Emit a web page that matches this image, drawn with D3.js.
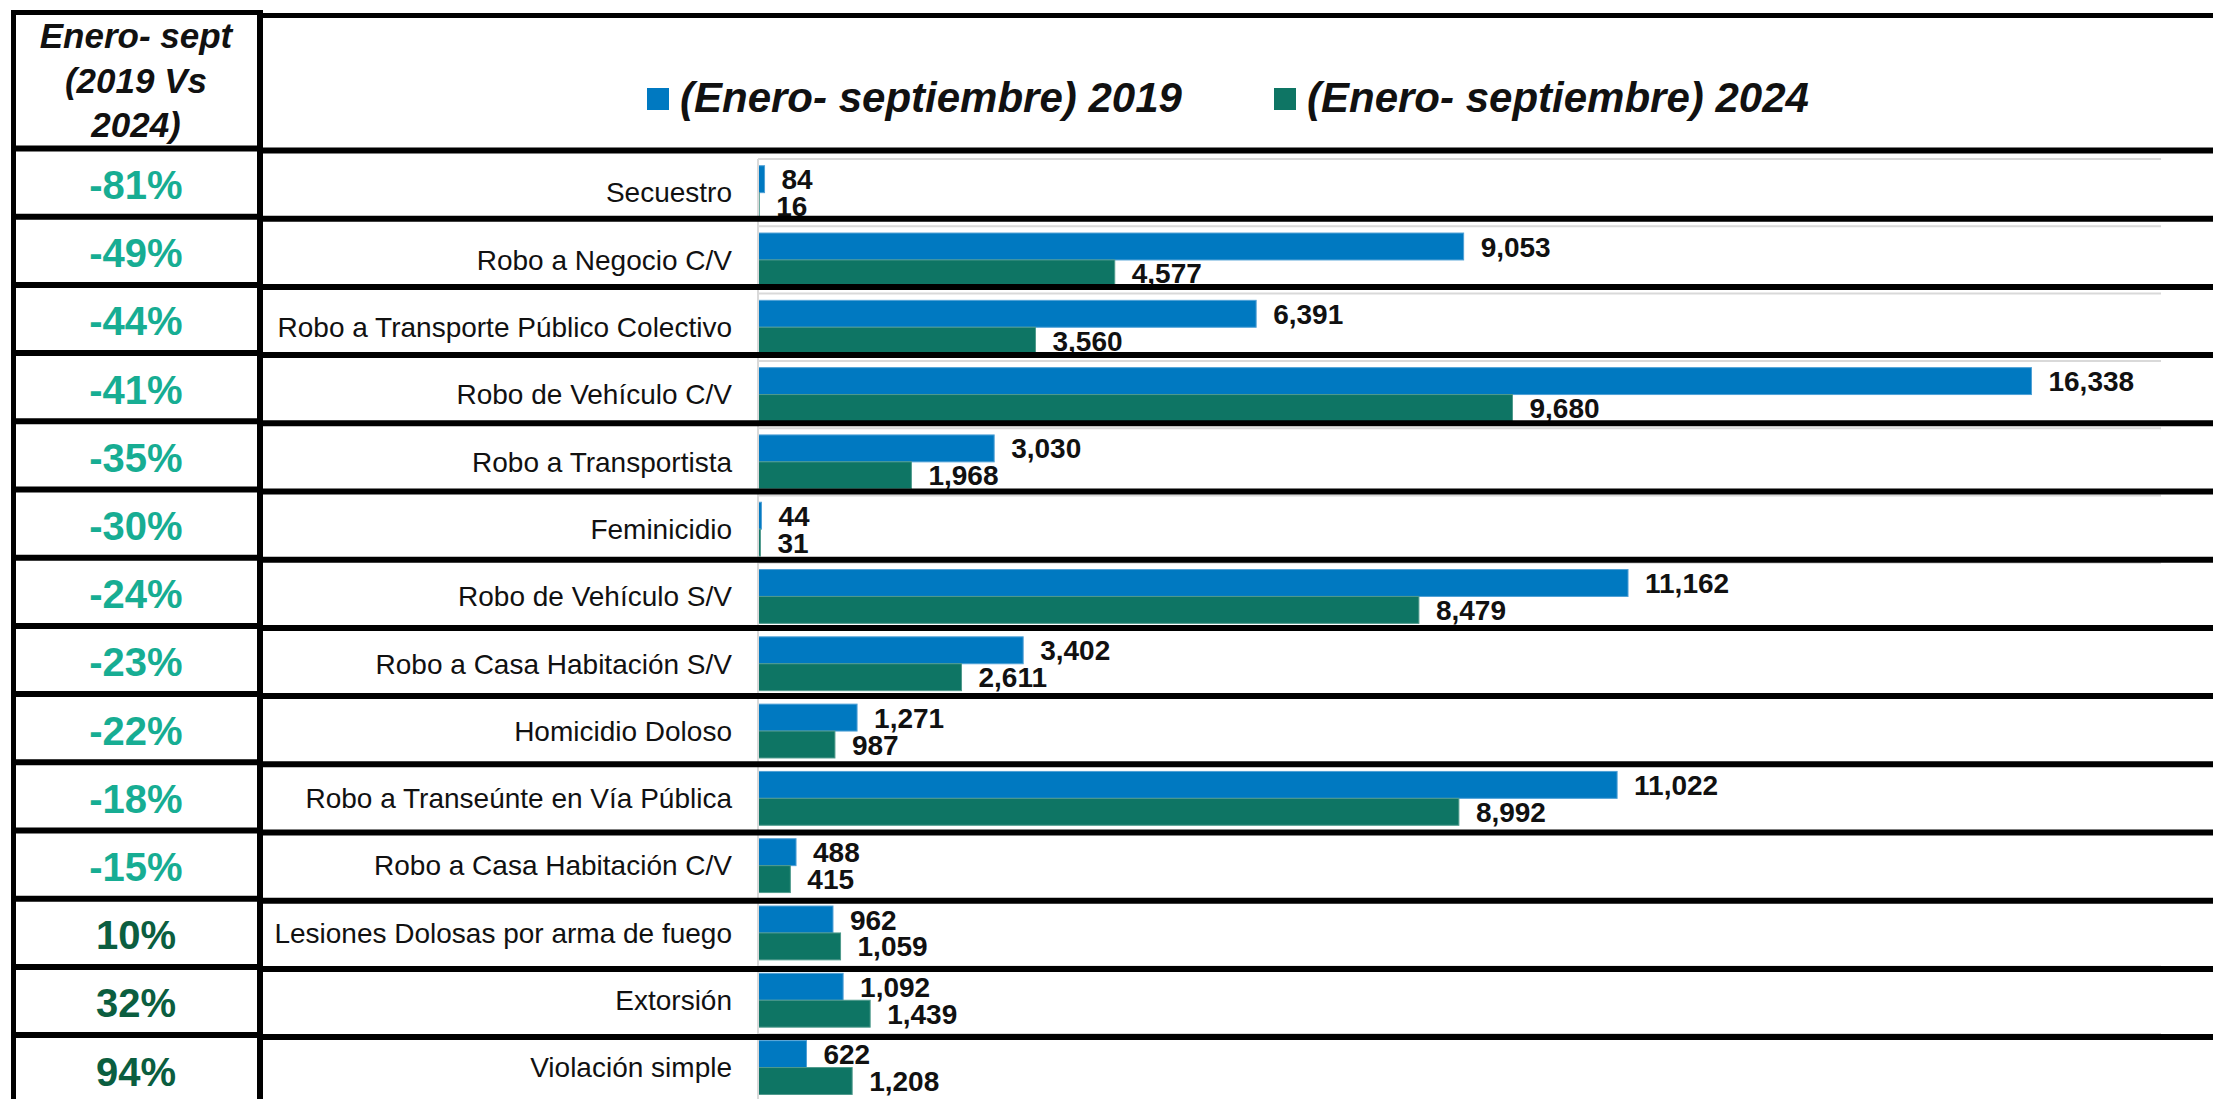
<!DOCTYPE html>
<html>
<head>
<meta charset="utf-8">
<script src="https://cdn.jsdelivr.net/npm/d3@7"></script>
<style>
  body { margin: 0; background: #fff; }
  svg { display: block; font-family: "Liberation Sans", Arial, sans-serif; }
</style>
</head>
<body>
<svg id="chart" width="2213" height="1099"></svg>
<script>

var categories = [
  "Secuestro",
  "Robo a Negocio C/V",
  "Robo a Transporte Público Colectivo",
  "Robo de Vehículo C/V",
  "Robo a Transportista",
  "Feminicidio",
  "Robo de Vehículo S/V",
  "Robo a Casa Habitación S/V",
  "Homicidio Doloso",
  "Robo a Transeúnte en Vía Pública",
  "Robo a Casa Habitación C/V",
  "Lesiones Dolosas por arma de fuego",
  "Extorsión",
  "Violación simple"
];
var values2019 = [84, 9053, 6391, 16338, 3030, 44, 11162, 3402, 1271, 11022, 488, 962, 1092, 622];
var values2024 = [16, 4577, 3560, 9680, 1968, 31, 8479, 2611, 987, 8992, 415, 1059, 1439, 1208];
var pctChange = [-81, -49, -44, -41, -35, -30, -24, -23, -22, -18, -15, 10, 32, 94];
var seriesNames = ["(Enero- septiembre) 2019", "(Enero- septiembre) 2024"];
var headerLines = ["Enero- sept", "(2019 Vs", "2024)"];

var BLUE = "#0079c1";
var GREEN = "#0e7564";
var NEG = "#17ad93";
var POS = "#0b5e40";

var svg = d3.select("#chart");
var fmt = d3.format(",");

// scales
var x = d3.scaleLinear().domain([0, 18000]).range([758, 2161]);

var yBand = d3.scaleBand()
  .domain(categories)
  .range([159, 159 + categories.length * 67.3])
  .paddingInner(0.2)
  .paddingOuter(0.1);

var yRow = d3.scaleBand()
  .domain(categories)
  .range([150.5, 150.5 + categories.length * 68.2]);

var chartStep = yBand.step();
var barH = yBand.bandwidth() / 2;

// grid lines (category boundaries)
svg.append("g")
  .selectAll("line")
  .data(d3.range(categories.length + 1))
  .join("line")
  .attr("x1", x(0)).attr("x2", x.range()[1])
  .attr("y1", function(k) { return 159 + k * chartStep; })
  .attr("y2", function(k) { return 159 + k * chartStep; })
  .attr("stroke", "#d9d9d9")
  .attr("stroke-width", 2);

// bars
var rows = svg.append("g")
  .selectAll("g")
  .data(categories)
  .join("g");

rows.append("rect")
  .attr("x", x(0))
  .attr("y", function(d) { return yBand(d); })
  .attr("width", function(d, i) { return x(values2019[i]) - x(0); })
  .attr("height", barH)
  .attr("fill", BLUE)
  .attr("stroke", "#4fa0d6")
  .attr("stroke-width", 1);

rows.append("rect")
  .attr("x", x(0))
  .attr("y", function(d) { return yBand(d) + barH; })
  .attr("width", function(d, i) { return x(values2024[i]) - x(0); })
  .attr("height", barH)
  .attr("fill", GREEN)
  .attr("stroke", "#4f9a8c")
  .attr("stroke-width", 1);

// value labels
rows.append("text")
  .attr("x", function(d, i) { return x(values2019[i]) + 17; })
  .attr("y", function(d) { return yBand(d) + barH / 2; })
  .attr("dy", "0.36em")
  .attr("font-size", 28)
  .attr("font-weight", "bold")
  .attr("fill", "#111")
  .text(function(d, i) { return fmt(values2019[i]); });

rows.append("text")
  .attr("x", function(d, i) { return x(values2024[i]) + 17; })
  .attr("y", function(d) { return yBand(d) + barH * 1.5; })
  .attr("dy", "0.36em")
  .attr("font-size", 28)
  .attr("font-weight", "bold")
  .attr("fill", "#111")
  .text(function(d, i) { return fmt(values2024[i]); });

// category axis
var yAxis = d3.axisLeft(yBand).tickSize(0).tickPadding(26);
var axisG = svg.append("g")
  .attr("transform", "translate(" + x(0) + ",0)")
  .call(yAxis);
axisG.select(".domain").remove();
axisG.selectAll("text")
  .attr("font-size", 28)
  .attr("font-family", "'Liberation Sans', Arial, sans-serif")
  .attr("fill", "#111")
  .attr("dy", "0.35em");

svg.append("line")
  .attr("x1", x(0)).attr("x2", x(0))
  .attr("y1", 159).attr("y2", 1099)
  .attr("stroke", "#d9d9d9")
  .attr("stroke-width", 2);

// legend
var legendX = [647, 1274];
var legend = svg.append("g")
  .selectAll("g")
  .data(seriesNames)
  .join("g")
  .attr("transform", function(d, i) { return "translate(" + legendX[i] + ",88)"; });

legend.append("rect")
  .attr("width", 22).attr("height", 22)
  .attr("fill", function(d, i) { return i ? GREEN : BLUE; });

legend.append("text")
  .attr("x", 33).attr("y", 24)
  .attr("font-size", 42)
  .attr("font-weight", "bold")
  .attr("font-style", "italic")
  .attr("fill", "#111")
  .text(function(d) { return d; });

// left column: header + % change
var colX = 136;

svg.append("text")
  .attr("text-anchor", "middle")
  .attr("font-size", 35)
  .attr("font-weight", "bold")
  .attr("font-style", "italic")
  .attr("fill", "#111")
  .selectAll("tspan")
  .data(headerLines)
  .join("tspan")
  .attr("x", colX)
  .attr("y", function(d, i) { return 48 + i * 44.5; })
  .text(function(d) { return d; });

svg.append("g")
  .selectAll("text")
  .data(categories)
  .join("text")
  .attr("x", colX)
  .attr("y", function(d) { return yRow(d) + yRow.bandwidth() / 2; })
  .attr("dy", "0.36em")
  .attr("text-anchor", "middle")
  .attr("font-size", 40)
  .attr("font-weight", "bold")
  .attr("fill", function(d, i) { return pctChange[i] < 0 ? NEG : POS; })
  .text(function(d, i) { return pctChange[i] + "%"; });

// table borders
var borders = svg.append("g").attr("stroke", "#000");

borders.append("line")
  .attr("x1", 13.5).attr("x2", 13.5).attr("y1", 10).attr("y2", 1099)
  .attr("stroke-width", 5);
borders.append("line")
  .attr("x1", 260).attr("x2", 260).attr("y1", 10).attr("y2", 1099)
  .attr("stroke-width", 6);
borders.append("line")
  .attr("x1", 11).attr("x2", 263).attr("y1", 12.5).attr("y2", 12.5)
  .attr("stroke-width", 5);
borders.append("line")
  .attr("x1", 263).attr("x2", 2213).attr("y1", 15.5).attr("y2", 15.5)
  .attr("stroke-width", 5);

borders.selectAll("line.left")
  .data(categories)
  .join("line")
  .attr("class", "left")
  .attr("x1", 11).attr("x2", 257)
  .attr("y1", function(d) { return yRow(d) - 2; })
  .attr("y2", function(d) { return yRow(d) - 2; })
  .attr("stroke-width", 6);

borders.selectAll("line.right")
  .data(categories)
  .join("line")
  .attr("class", "right")
  .attr("x1", 263).attr("x2", 2213)
  .attr("y1", function(d) { return yRow(d); })
  .attr("y2", function(d) { return yRow(d); })
  .attr("stroke-width", 6);

</script>
</body>
</html>
